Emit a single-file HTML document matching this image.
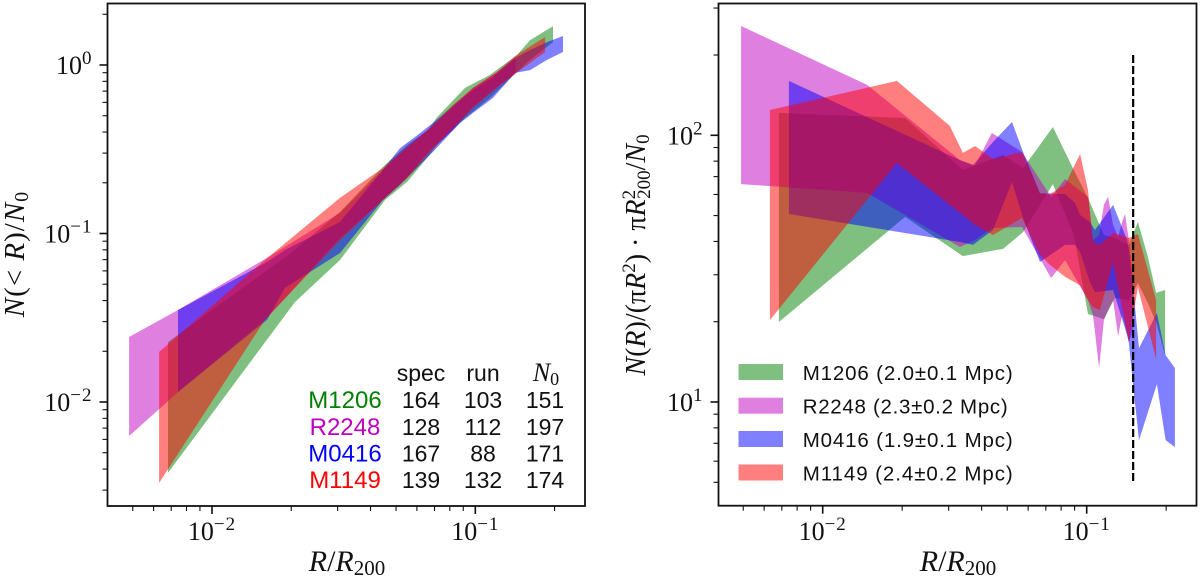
<!DOCTYPE html>
<html lang="en">
<head>
<meta charset="utf-8">
<title>Cumulative and differential radial distributions</title>
<style>
html,body{margin:0;padding:0;background:#fff;}
svg{display:block;}
.serif{font-family:"Liberation Serif",serif;fill:#111;}
.sans{font-family:"Liberation Sans",sans-serif;fill:#111;}
.it{font-style:italic;}
</style>
</head>
<body>
<svg id="chart" xmlns="http://www.w3.org/2000/svg" width="1200" height="579" viewBox="0 0 1200 579">
  <rect x="0" y="0" width="1200" height="579" fill="#fff"/>
  <g id="left-marks"></g>
  <g id="right-marks"></g>
  <g id="left-axes"></g>
  <g id="right-axes"></g>

  <text class="serif" x="347" y="571" text-anchor="middle" font-size="30"><tspan class="it">R</tspan>/<tspan class="it">R</tspan><tspan font-size="21" dy="4">200</tspan></text>
  <text class="serif" x="958" y="571" text-anchor="middle" font-size="30"><tspan class="it">R</tspan>/<tspan class="it">R</tspan><tspan font-size="21" dy="4">200</tspan></text>
  <text class="serif" transform="translate(24 254) rotate(-90)" text-anchor="middle" font-size="29" letter-spacing="1"><tspan class="it">N</tspan>(&lt; <tspan class="it">R</tspan>)/<tspan class="it">N</tspan><tspan font-size="20" dy="4">0</tspan></text>
  <text class="serif" transform="translate(645 255) rotate(-90)" text-anchor="middle" font-size="28"><tspan class="it">N</tspan>(<tspan class="it">R</tspan>)/(π<tspan class="it">R</tspan><tspan font-size="19" dy="-10">2</tspan><tspan dy="10">) · π</tspan><tspan class="it">R</tspan><tspan font-size="19" dy="-10">2</tspan><tspan font-size="19" dx="-9" dy="15">200</tspan><tspan dy="-5">/</tspan><tspan class="it">N</tspan><tspan font-size="19" dy="4">0</tspan></text>

  <g font-size="23">
    <text class="sans" x="421" y="381" text-anchor="middle">spec</text>
    <text class="sans" x="483" y="381" text-anchor="middle">run</text>
    <text class="serif" x="546" y="381" text-anchor="middle" font-size="26"><tspan class="it">N</tspan><tspan font-size="18" dy="4">0</tspan></text>

    <text class="sans" style="fill:#008000" font-size="24" x="345" y="408" text-anchor="middle">M1206</text>
    <text class="sans" x="421" y="408" text-anchor="middle">164</text>
    <text class="sans" x="483" y="408" text-anchor="middle">103</text>
    <text class="sans" x="545" y="408" text-anchor="middle">151</text>

    <text class="sans" style="fill:#c000c0" font-size="24" x="345" y="435" text-anchor="middle">R2248</text>
    <text class="sans" x="421" y="435" text-anchor="middle">128</text>
    <text class="sans" x="483" y="435" text-anchor="middle">112</text>
    <text class="sans" x="545" y="435" text-anchor="middle">197</text>

    <text class="sans" style="fill:#0000ff" font-size="24" x="345" y="461.5" text-anchor="middle">M0416</text>
    <text class="sans" x="421" y="461.5" text-anchor="middle">167</text>
    <text class="sans" x="483" y="461.5" text-anchor="middle">88</text>
    <text class="sans" x="545" y="461.5" text-anchor="middle">171</text>

    <text class="sans" style="fill:#ff0000" font-size="24" x="345" y="488" text-anchor="middle">M1149</text>
    <text class="sans" x="421" y="488" text-anchor="middle">139</text>
    <text class="sans" x="483" y="488" text-anchor="middle">132</text>
    <text class="sans" x="545" y="488" text-anchor="middle">174</text>
  </g>

  <g font-size="20.5">
    <g>
      <rect x="738.5" y="364" width="44.5" height="16" fill="#008000" fill-opacity="0.5"/>
      <text class="sans" x="802.7" y="380" textLength="210" lengthAdjust="spacing">M1206 (2.0±0.1 Mpc)</text>
    </g>
    <g>
      <rect x="738.5" y="397.7" width="44.5" height="16" fill="#c000c0" fill-opacity="0.5"/>
      <text class="sans" x="802.7" y="413.7" textLength="205" lengthAdjust="spacing">R2248 (2.3±0.2 Mpc)</text>
    </g>
    <g>
      <rect x="738.5" y="431" width="44.5" height="16" fill="#0000ff" fill-opacity="0.5"/>
      <text class="sans" x="802.7" y="447" textLength="210" lengthAdjust="spacing">M0416 (1.9±0.1 Mpc)</text>
    </g>
    <g>
      <rect x="738.5" y="464.5" width="44.5" height="16" fill="#ff0000" fill-opacity="0.5"/>
      <text class="sans" x="802.7" y="480.5" textLength="210" lengthAdjust="spacing">M1149 (2.4±0.2 Mpc)</text>
    </g>
  </g>
</svg>

<script>
// All values are base-10 logarithms of the plotted quantity.
// Tick labels (decade exponents) and minor tick multipliers
const xTickExponents = [-3, -2, -1, 0];
const leftYTickExponents = [-3, -2, -1, 0, 1];
const rightYTickExponents = [0, 1, 2, 3];
const minorMultipliers = [2, 3, 4, 5, 6, 7, 8, 9];

// Left panel: log10 R/R200, log10 N(<R)/N0 lower and upper bounds
const leftM1206LogR = [-2.167, -1.685, -1.514, -1.343, -1.259, -1.180, -1.145, -1.039, -0.944, -0.842, -0.792, -0.705];
const leftM1206Lower = [-2.421, -1.407, -1.157, -0.801, -0.694, -0.546, -0.475, -0.315, -0.196, -0.042, 0.030, 0.136];
const leftM1206Upper = [-1.644, -1.098, -0.872, -0.593, -0.475, -0.386, -0.309, -0.136, -0.059, 0.059, 0.148, 0.231];

const leftR2248LogR = [-2.315, -2.129, -1.791, -1.514, -1.351, -1.259, -1.172, -1.085, -1.009, -0.918, -0.847];
const leftR2248Lower = [-2.202, -1.941, -1.501, -1.027, -0.801, -0.665, -0.504, -0.386, -0.249, -0.131, -0.047];
const leftR2248Upper = [-1.614, -1.454, -1.145, -0.878, -0.623, -0.487, -0.374, -0.249, -0.136, -0.042, 0.042];

const leftM0416LogR = [-2.129, -1.791, -1.723, -1.514, -1.351, -1.286, -1.210, -1.161, -1.058, -1.009, -0.933, -0.849, -0.792, -0.728, -0.667];
const leftM0416Lower = [-1.941, -1.513, -1.323, -1.116, -0.801, -0.712, -0.593, -0.516, -0.344, -0.285, -0.196, -0.047, -0.030, 0.030, 0.077];
const leftM0416Upper = [-1.454, -1.169, -1.098, -0.932, -0.623, -0.493, -0.404, -0.344, -0.208, -0.148, -0.071, 0.042, 0.089, 0.136, 0.172];

const leftM1149LogR = [-2.201, -1.799, -1.514, -1.351, -1.259, -1.172, -1.085, -1.009, -0.918, -0.849, -0.735];
const leftM1149Lower = [-2.481, -1.513, -1.039, -0.801, -0.671, -0.516, -0.374, -0.255, -0.136, -0.053, 0.077];
const leftM1149Upper = [-1.703, -1.157, -0.789, -0.611, -0.487, -0.374, -0.237, -0.136, -0.042, 0.053, 0.166];

// Right panel: log10 R/R200, log10 surface density lower and upper bounds
const rightM1206LogR = [-2.166, -1.688, -1.469, -1.317, -1.241, -1.128, -1.049, -0.995, -0.935, -0.893, -0.840, -0.806, -0.768, -0.737, -0.703];
const rightM1206Lower = [1.300, 1.694, 1.547, 1.574, 1.637, 1.817, 1.626, 1.330, 1.311, 1.390, 1.382, 1.446, 1.371, 1.300, 1.176];
const rightM1206Upper = [2.084, 2.065, 1.870, 1.926, 1.877, 2.031, 1.870, 1.765, 1.626, 1.615, 1.589, 1.675, 1.544, 1.409, 1.420];

const rightR2248LogR = [-2.309, -1.832, -1.480, -1.423, -1.359, -1.245, -1.135, -1.082, -0.995, -0.976, -0.953, -0.935, -0.919, -0.900, -0.881, -0.866, -0.855, -0.840, -0.825];
const rightR2248Lower = [1.817, 1.784, 1.581, 1.607, 1.652, 1.656, 1.465, 1.532, 1.382, 1.326, 1.127, 1.307, 1.345, 1.382, 1.247, 1.326, 1.288, 1.225, 1.270];
const rightR2248Upper = [2.410, 2.189, 1.907, 1.888, 2.009, 1.937, 1.769, 1.836, 1.769, 1.607, 1.626, 1.739, 1.769, 1.664, 1.619, 1.675, 1.705, 1.607, 1.457];

const rightM0416LogR = [-2.128, -1.480, -1.431, -1.355, -1.283, -1.241, -1.177, -1.082, -1.044, -1.025, -0.988, -0.969, -0.900, -0.847, -0.840, -0.825, -0.802, -0.734, -0.701, -0.666];
const rightM0416Lower = [1.705, 1.600, 1.589, 1.645, 1.825, 1.690, 1.525, 1.589, 1.589, 1.562, 1.450, 1.412, 1.420, 1.251, 1.221, 1.071, 0.857, 1.067, 0.857, 0.831];
const rightM0416Upper = [2.204, 1.907, 1.888, 1.975, 2.050, 1.937, 1.783, 1.780, 1.746, 1.701, 1.675, 1.645, 1.739, 1.607, 1.570, 1.438, 1.202, 1.334, 1.176, 1.127];

const rightM1149LogR = [-2.200, -1.719, -1.518, -1.469, -1.423, -1.355, -1.245, -1.177, -1.139, -1.082, -1.025, -0.995, -0.976, -0.950, -0.900, -0.840, -0.806, -0.737];
const rightM1149Lower = [1.307, 1.896, 1.739, 1.701, 1.664, 1.626, 1.690, 1.551, 1.514, 1.469, 1.438, 1.382, 1.356, 1.345, 1.525, 1.225, 1.431, 1.161];
const rightM1149Upper = [2.095, 2.204, 2.035, 1.934, 1.960, 1.911, 1.937, 1.783, 1.780, 1.814, 1.930, 1.795, 1.600, 1.589, 1.634, 1.615, 1.630, 1.382];

// R200 reference line: log10 R/R200 and log10 range
const referenceLogR = [-0.824];
const referenceLogRange = [0.699, 2.301];

const NS = 'http://www.w3.org/2000/svg';

function make(tag, attrs, parent) {
  const el = document.createElementNS(NS, tag);
  for (const k in attrs) el.setAttribute(k, attrs[k]);
  parent.appendChild(el);
  return el;
}

function scales(x0, xDecade, y0, yDecade) {
  return {
    x: function (logR) { return x0 + xDecade * (logR + 2); },
    y: function (logV) { return y0 - yDecade * logV; }
  };
}

const leftScale = scales(212, 263.3, 65, 168.5);
const rightScale = scales(822.7, 264, 668.7, 266.7);
const leftBox = { l: 107.5, r: 585, t: 3.5, b: 506 };
const rightBox = { l: 718.5, r: 1196.5, t: 3.5, b: 505.7 };

function band(parent, scale, logR, lower, upper, color, name) {
  let pts = [];
  for (let i = 0; i < logR.length; i++) {
    pts.push(scale.x(logR[i]).toFixed(1) + ',' + scale.y(upper[i]).toFixed(1));
  }
  for (let i = logR.length - 1; i >= 0; i--) {
    pts.push(scale.x(logR[i]).toFixed(1) + ',' + scale.y(lower[i]).toFixed(1));
  }
  const el = make('polygon', { points: pts.join(' '), fill: color, 'fill-opacity': 0.5 }, parent);
  
  
}

function tickLabel(parent, x, y, exp, anchor, name) {
  const t = make('text', { x: x, y: y, 'text-anchor': anchor, 'font-size': 26, class: 'serif' }, parent);
  
  
  const base = make('tspan', {}, t);
  base.textContent = '10';
  const sup = make('tspan', { 'font-size': 19, dy: -10, 'letter-spacing': 1 }, t);
  sup.textContent = String(exp).replace('-', '−');
}

function axes(parent, scale, box, yExps, panel) {
  const tick = function (x1, y1, x2, y2, w, name) {
    const el = make('line', { x1: x1, y1: y1, x2: x2, y2: y2, stroke: '#111', 'stroke-width': w }, parent);
    
    
  };
  xTickExponents.forEach(function (e) {
    const x = scale.x(e);
    if (x >= box.l && x <= box.r) {
      tick(x, box.b, x, box.b + 8, 1.6, panel + '-x-major-tick');
      tickLabel(parent, x, 540, e, 'middle', panel + '-x-tick-label');
    }
    minorMultipliers.forEach(function (m) {
      const xm = scale.x(e + Math.log10(m));
      if (xm > box.l && xm < box.r) {
        tick(xm, box.b, xm, box.b + 5, 1.1, panel + '-x-minor-tick');
      }
    });
  });
  yExps.forEach(function (e) {
    const y = scale.y(e);
    if (y >= box.t && y <= box.b) {
      tick(box.l - 8, y, box.l, y, 1.6, panel + '-y-major-tick');
      tickLabel(parent, box.l - 15, y + 9, e, 'end', panel + '-y-tick-label');
    }
    minorMultipliers.forEach(function (m) {
      const ym = scale.y(e + Math.log10(m));
      if (ym > box.t && ym < box.b) {
        tick(box.l - 5, ym, box.l, ym, 1.1, panel + '-y-minor-tick');
      }
    });
  });
  const frame = make('rect', { x: box.l, y: box.t, width: box.r - box.l, height: box.b - box.t, fill: 'none', stroke: '#111', 'stroke-width': 1.8 }, parent);
  
  
}

const leftMarks = document.getElementById('left-marks');
const rightMarks = document.getElementById('right-marks');

band(leftMarks, leftScale, leftM1206LogR, leftM1206Lower, leftM1206Upper, '#008000', 'left-band-m1206');
band(leftMarks, leftScale, leftR2248LogR, leftR2248Lower, leftR2248Upper, '#c000c0', 'left-band-r2248');
band(leftMarks, leftScale, leftM0416LogR, leftM0416Lower, leftM0416Upper, '#0000ff', 'left-band-m0416');
band(leftMarks, leftScale, leftM1149LogR, leftM1149Lower, leftM1149Upper, '#ff0000', 'left-band-m1149');

band(rightMarks, rightScale, rightM1206LogR, rightM1206Lower, rightM1206Upper, '#008000', 'right-band-m1206');
band(rightMarks, rightScale, rightR2248LogR, rightR2248Lower, rightR2248Upper, '#c000c0', 'right-band-r2248');
band(rightMarks, rightScale, rightM0416LogR, rightM0416Lower, rightM0416Upper, '#0000ff', 'right-band-m0416');
band(rightMarks, rightScale, rightM1149LogR, rightM1149Lower, rightM1149Upper, '#ff0000', 'right-band-m1149');

const refLine = make('line', {
  x1: rightScale.x(referenceLogR[0]),
  x2: rightScale.x(referenceLogR[0]),
  y1: rightScale.y(referenceLogRange[1]),
  y2: rightScale.y(referenceLogRange[0]),
  stroke: '#000',
  'stroke-width': 2.2,
  'stroke-dasharray': '8 3'
}, rightMarks);



axes(document.getElementById('left-axes'), leftScale, leftBox, leftYTickExponents, 'left');
axes(document.getElementById('right-axes'), rightScale, rightBox, rightYTickExponents, 'right');
</script>
</body>
</html>
